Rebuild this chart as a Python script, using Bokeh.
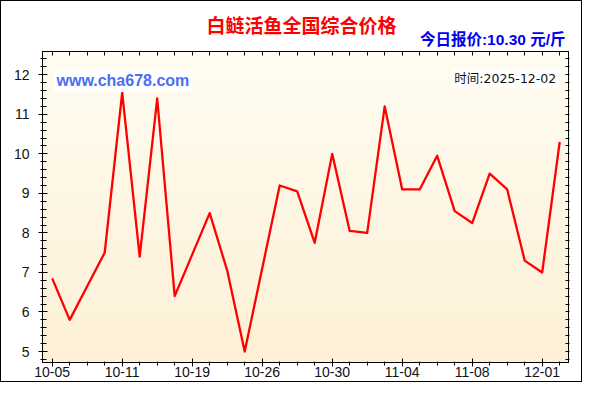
import numpy as np
from bokeh.plotting import figure
from bokeh.models import (Range1d, FixedTicker, LinearAxis, Label, Title, ColumnDataSource)
from bokeh.embed import file_html
from bokeh.resources import INLINE

# ---- data ----
prices = [6.85, 5.8, 6.65, 7.5, 11.55, 7.4, 11.4, 6.4, 7.45, 8.5,
          7.05, 5.0, 7.1, 9.2, 9.05, 7.75, 10.0, 8.05, 8.0, 11.2,
          9.1, 9.1, 9.95, 8.55, 8.25, 9.5, 9.1, 7.3, 7.0, 10.3]
idx = list(range(len(prices)))
tick_index = [0, 4, 8, 12, 16, 20, 24, 28]
tick_labels = ["10-05", "10-11", "10-19", "10-26", "10-30", "11-04", "11-08", "12-01"]
y_ticks = [5, 6, 7, 8, 9, 10, 11, 12]
title_text = "白鲢活鱼全国综合价格"
today_text = "今日报价:10.30 元/斤"
date_text = "时间:2025-12-02"
site_text = "www.cha678.com"

x0, x1 = -0.554, 29.503
y0, y1 = 4.722, 12.589

p = figure(width=582, height=382,
           min_border_left=41, min_border_right=15,
           min_border_top=50, min_border_bottom=21,
           x_range=Range1d(x0, x1), y_range=Range1d(y0, y1),
           output_backend="svg", toolbar_location=None, tools="")
p.background_fill_color = "#FFF8E6"
p.border_fill_color = "white"
p.outline_line_color = "black"
p.outline_line_width = 1
p.styles = {"border": "1px solid black"}

# gradient background of the plot area
n = 64
img = np.empty((n, 1), dtype=np.uint32)
view = img.view(dtype=np.uint8).reshape((n, 1, 4))
top = np.array([255, 253, 242])
bot = np.array([253, 240, 214])
for i in range(n):
    t = i / (n - 1)
    c = bot + (top - bot) * t
    view[i, 0, 0:3] = c.astype(np.uint8)
    view[i, 0, 3] = 255
p.image_rgba(image=[img], x=x0, y=y0, dw=x1 - x0, dh=y1 - y0)

# grids
p.xgrid.visible = False
p.ygrid.ticker = FixedTicker(ticks=y_ticks)
p.ygrid.grid_line_color = "#B8860B"
p.ygrid.grid_line_width = 1

src = ColumnDataSource(dict(x=idx, y=prices))
p.line("x", "y", source=src, line_color="#FF0000", line_width=2.3, line_join="round")

minor_y = [round(4.8 + 0.2 * i, 1) for i in range(40)]

# bottom axis
xa = p.xaxis[0]
xa.ticker = FixedTicker(ticks=tick_index, minor_ticks=idx)
xa.major_label_overrides = {i: s for i, s in zip(tick_index, tick_labels)}
xa.major_tick_in = 4
xa.major_tick_out = 4
xa.minor_tick_in = 1
xa.minor_tick_out = 3
xa.major_label_standoff = 0
xa.major_label_text_font = "Liberation Sans"
xa.major_label_text_font_size = "14px"
xa.major_label_text_color = "#111111"
xa.axis_line_color = "black"

# left axis
ya = p.yaxis[0]
ya.ticker = FixedTicker(ticks=y_ticks, minor_ticks=minor_y)
ya.major_tick_in = 5
ya.major_tick_out = 4
ya.minor_tick_in = 4
ya.minor_tick_out = 2
ya.major_label_standoff = 9
ya.major_label_text_font = "Liberation Sans"
ya.major_label_text_font_size = "14px"
ya.major_label_text_color = "#111111"
ya.axis_line_color = "black"

# top axis (ticks only, no labels)
ta = LinearAxis(ticker=FixedTicker(ticks=[], minor_ticks=idx),
                minor_tick_in=4, minor_tick_out=0,
                major_tick_in=0, major_tick_out=0,
                major_label_standoff=0, axis_line_color="black")
p.add_layout(ta, "above")

# right axis (ticks only, no labels)
ra = LinearAxis(ticker=FixedTicker(ticks=[], minor_ticks=minor_y),
                minor_tick_in=3, minor_tick_out=1,
                major_tick_in=0, major_tick_out=0,
                major_label_standoff=0, axis_line_color="black")
p.add_layout(ra, "right")

# subtitle and title in the panel above the plot
sub = Title(text=today_text, align="right", offset=3, vertical_align="middle",
            standoff=6, text_font="Liberation Sans, Noto Sans CJK SC",
            text_font_size="15.5px", text_font_style="bold", text_color="#0000EE")
p.add_layout(sub, "above")
ttl = Title(text=title_text, align="left", offset=164, vertical_align="middle",
            standoff=-24, text_font="Noto Sans CJK SC",
            text_font_size="19px", text_font_style="bold", text_color="#FF0000")
p.add_layout(ttl, "above")

# texts inside the plot area (screen units from the frame's bottom-left)
p.add_layout(Label(x=11, y=282, x_units="screen", y_units="screen",
                   text=site_text, text_align="left", text_baseline="middle",
                   text_font="Liberation Sans", text_font_size="16px",
                   text_font_style="bold", text_color="#4B6EF5",
                   background_fill_color="white", padding=3))
p.add_layout(Label(x=515.7, y=284.2, x_units="screen", y_units="screen",
                   text=date_text, text_align="right", text_baseline="middle",
                   text_font="DejaVu Sans, Noto Sans CJK SC", text_font_size="12.5px",
                   text_color="#111111",
                   background_fill_color="white", padding=2))

open("out.html", "w").write(file_html(p, INLINE))
